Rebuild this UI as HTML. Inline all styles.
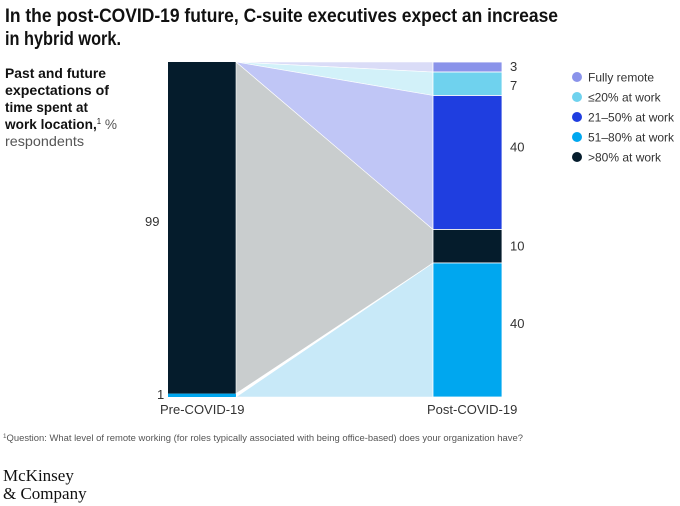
<!DOCTYPE html>
<html><head><meta charset="utf-8"><style>
body{margin:0;background:#fff;}
svg{display:block;font-family:"Liberation Sans",sans-serif;}
</style></head><body>
<svg width="680" height="506" viewBox="0 0 680 506">
<text x="5" y="22" font-size="19" font-weight="bold" fill="#111" textLength="553" lengthAdjust="spacingAndGlyphs">In the post-COVID-19 future, C-suite executives expect an increase</text>
<text x="5" y="45" font-size="19" font-weight="bold" fill="#111" textLength="116" lengthAdjust="spacingAndGlyphs">in hybrid work.</text>
<g font-size="14" fill="#111">
<text x="5" y="78" font-weight="bold" textLength="101" lengthAdjust="spacingAndGlyphs">Past and future</text>
<text x="5" y="95" font-weight="bold" textLength="104" lengthAdjust="spacingAndGlyphs">expectations of</text>
<text x="5" y="112" font-weight="bold" textLength="83" lengthAdjust="spacingAndGlyphs">time spent at</text>
<text x="5" y="129" textLength="112" lengthAdjust="spacingAndGlyphs"><tspan font-weight="bold">work location,</tspan><tspan font-size="8" dy="-5">1</tspan><tspan dy="5" fill="#555"> %</tspan></text>
<text x="5" y="146" fill="#555" textLength="79" lengthAdjust="spacingAndGlyphs">respondents</text>
</g>
<g id="chart"></g>
<g id="legend"></g>
<text x="160" y="414" font-size="13" fill="#333">Pre-COVID-19</text>
<text x="427" y="414" font-size="13" fill="#333">Post-COVID-19</text>
<text x="3" y="441" font-size="9" fill="#555" textLength="520" lengthAdjust="spacingAndGlyphs"><tspan font-size="6" dy="-3">1</tspan><tspan dy="3">Question: What level of remote working (for roles typically associated with being office-based) does your organization have?</tspan></text>
<text x="3" y="481" font-size="17" font-family="Liberation Serif,serif" fill="#111">McKinsey</text>
<text x="3" y="499" font-size="17" font-family="Liberation Serif,serif" fill="#111">&amp; Company</text>
</svg>
<script>
const categories=["Fully remote","≤20% at work","21–50% at work",">80% at work","51–80% at work"];
const postValues=[3,7,40,10,40];
const preCategories=[">80% at work","51–80% at work"];
const preValues=[99,1];
const postColors=["#8a93ea","#6fd2ee","#1f3ee0","#051c2c","#00a7ef"];
const flowColors=["#dadcf7","#d2f1f9","#c0c6f6","#c9cdce","#c8e9f8"];
const labelShift=[-1,1,-16,-1,-7];
const NS="http://www.w3.org/2000/svg";
const top0=62,bot=397;
const y=v=>top0+v/100*(bot-top0);
const preX=168,preW=68,postX=433,postW=69;
const g=document.getElementById('chart');
function el(t,a,p){const e=document.createElementNS(NS,t);for(const k in a)e.setAttribute(k,a[k]);(p||g).appendChild(e);return e;}
let c=0;
preValues.forEach((v,i)=>{
  const r=el('rect',{x:preX,y:y(c),width:preW,height:y(c+v)-y(c),fill:i==0?"#051c2c":"#00a7ef"});
  
  
  c+=v;
});
let pc=0;const starts=[];
postValues.forEach((v,i)=>{starts.push(pc);pc+=v;});
const sx=preX+preW;
postValues.forEach((v,i)=>{
  const a=starts[i],b=a+v;let pts;
  if(i<3) pts=[[sx,y(0)],[postX,y(a)],[postX,y(b)]];
  else if(i==3) pts=[[sx,y(0)],[postX,y(a)],[postX,y(b)],[sx,y(preValues[0])]];
  else pts=[[sx,y(100)],[postX,y(a)],[postX,y(b)]];
  const p=el('polygon',{points:pts.map(q=>q.join(',')).join(' '),fill:flowColors[i],stroke:"#fff","stroke-width":0.6});
  
  
});
postValues.forEach((v,i)=>{
  const a=starts[i];
  const r=el('rect',{x:postX,y:y(a),width:postW,height:y(a+v)-y(a),fill:postColors[i],stroke:"#fff","stroke-width":0.8});
  
  
  const t=el('text',{x:510,y:(y(a)+y(a+v))/2+5+labelShift[i],"font-size":13,fill:"#333"});
  t.textContent=v;
  
  
});
const t1=el('text',{x:145,y:226,"font-size":13,fill:"#333"});t1.textContent=preValues[0];


const t2=el('text',{x:157,y:399,"font-size":13,fill:"#333"});t2.textContent=preValues[1];


const lg=document.getElementById('legend');
const legOrder=[0,1,2,4,3];
legOrder.forEach((ci,k)=>{
  const ly=77+k*20;
  const d=el('circle',{cx:577,cy:ly,r:5,fill:postColors[ci]},lg);
  
  
  const t=el('text',{x:588,y:ly+4.5,"font-size":12,fill:"#333"},lg);
  t.textContent=categories[ci];
  
  
});
</script>
</body></html>
